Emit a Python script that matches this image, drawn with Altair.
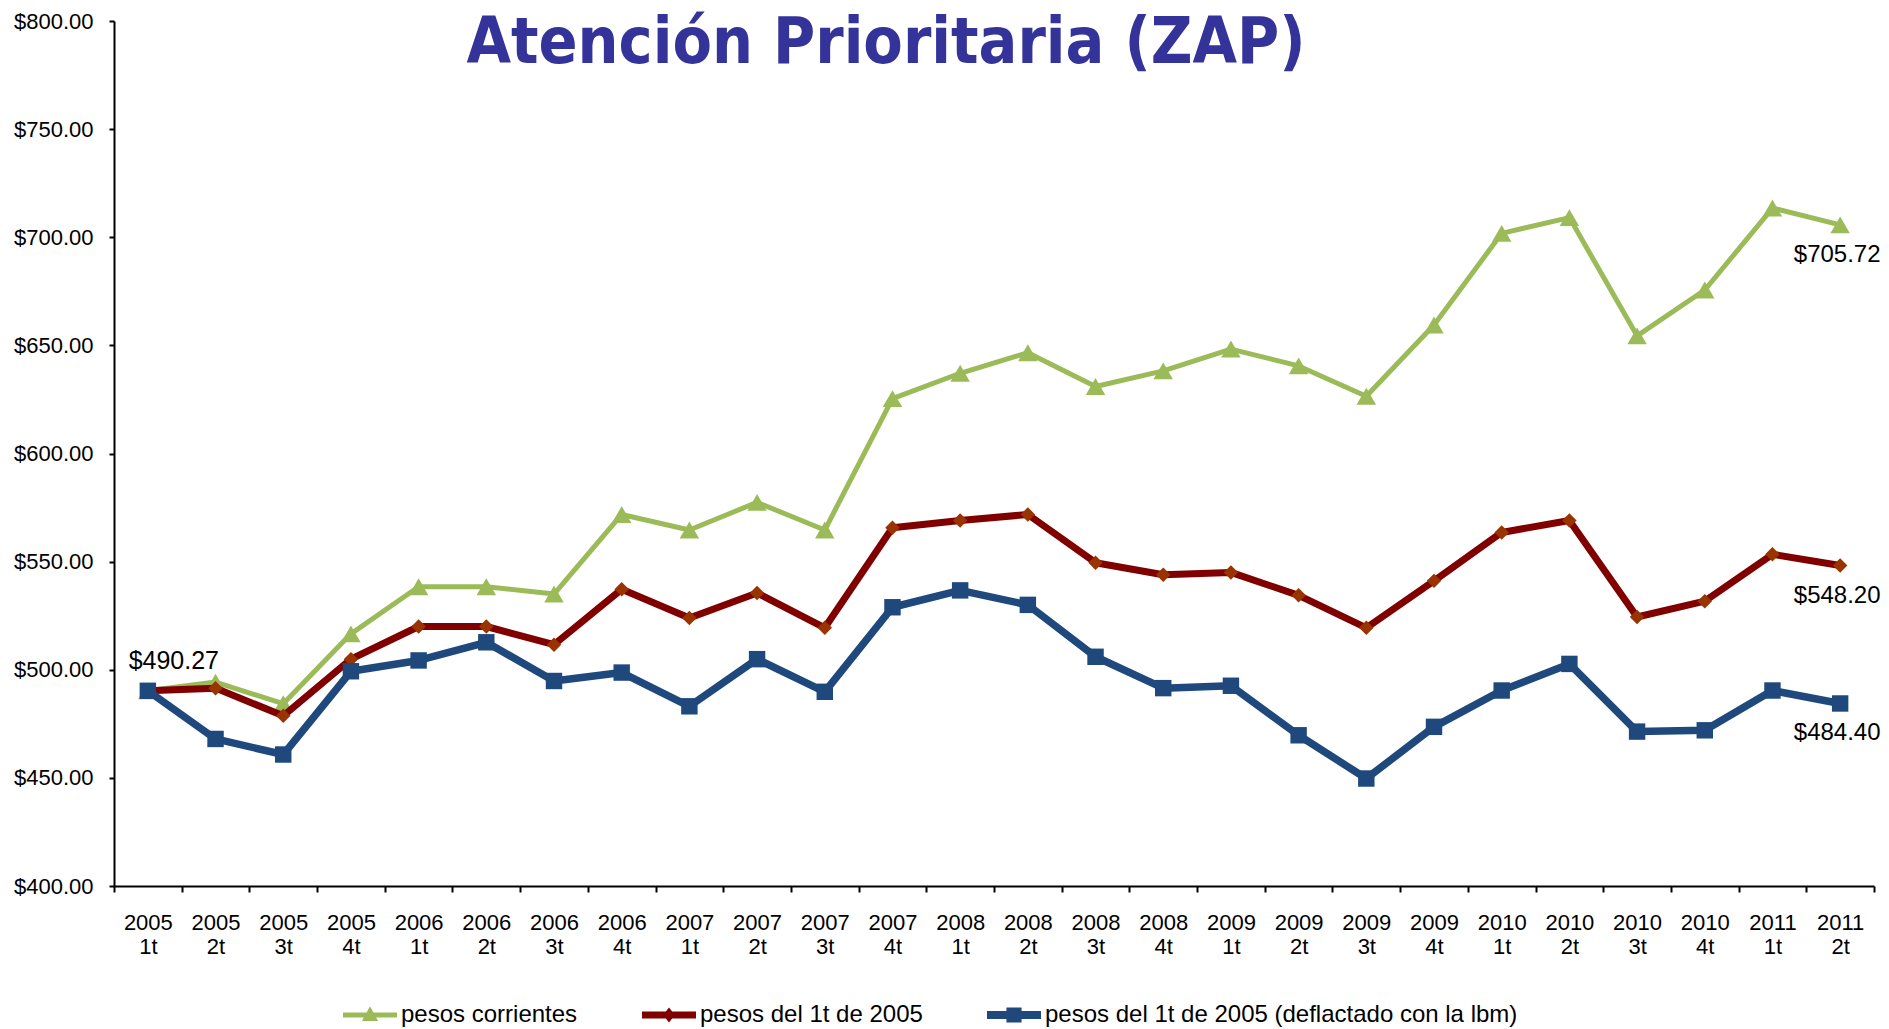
import altair as alt
import pandas as pd

categories = [
    "2005 1t", "2005 2t", "2005 3t", "2005 4t",
    "2006 1t", "2006 2t", "2006 3t", "2006 4t",
    "2007 1t", "2007 2t", "2007 3t", "2007 4t",
    "2008 1t", "2008 2t", "2008 3t", "2008 4t",
    "2009 1t", "2009 2t", "2009 3t", "2009 4t",
    "2010 1t", "2010 2t", "2010 3t", "2010 4t",
    "2011 1t", "2011 2t",
]
series_names = [
    "pesos corrientes",
    "pesos del 1t de 2005",
    "pesos del 1t de 2005 (deflactado con la lbm)",
]
corrientes = [490.27, 494.3, 484.3, 516.6, 538.4, 538.4, 535.0, 571.8, 564.6, 577.4,
              564.6, 625.4, 637.1, 646.6, 631.0, 638.2, 648.3, 640.5, 626.5, 659.4,
              701.8, 709.1, 654.4, 675.6, 713.5, 705.72]
constantes = [490.27, 491.5, 478.7, 504.9, 520.0, 520.0, 511.6, 537.2, 523.9, 535.5,
              519.4, 565.7, 569.0, 571.8, 549.5, 543.9, 545.0, 534.4, 519.4, 541.1,
              563.5, 569.0, 524.4, 531.7, 553.4, 548.20]
deflactado = [490.27, 468.0, 460.8, 499.3, 504.3, 512.7, 494.8, 498.7, 483.1, 504.9,
              489.8, 528.9, 536.7, 530.0, 506.0, 491.5, 492.6, 469.7, 449.7, 473.6,
              490.4, 502.7, 471.4, 472.0, 490.4, 484.40]
y_ticks = [400, 450, 500, 550, 600, 650, 700, 750, 800]
title_text = "Atención Prioritaria (ZAP)"

# styles
line_colors = ["#9BBB59", "#800000", "#1F497D"]
marker_colors = ["#9BBB59", "#993300", "#1F497D"]
line_widths = [5, 7, 7.5]
marker_shapes = ["triangle-up", "diamond", "square"]
marker_sizes = [380, 210, 270]
legend_paths = [
    "M-1,-0.09H1V0.09H-1Z M0,-0.32L0.3,0.22H-0.3Z",
    "M-1,-0.13H1V0.13H-1Z M0,-0.28L0.22,0L0,0.28L-0.22,0Z",
    "M-1,-0.15H1V0.15H-1Z M-0.28,-0.28H0.28V0.28H-0.28Z",
]

rows = []
for name, vals in zip(series_names, [corrientes, constantes, deflactado]):
    for c, v in zip(categories, vals):
        rows.append({"periodo": c, "valor": v, "serie": name})
df = pd.DataFrame(rows)

FONT = "Liberation Sans"

x_enc = alt.X(
    "periodo:N",
    sort=categories,
    bandPosition=0.5,
    scale=alt.Scale(type="band", domain=categories, paddingInner=0, paddingOuter=0),
    axis=alt.Axis(
        title=None, labelAngle=0, labelExpr="split(datum.label, ' ')",
        tickBand="extent", tickSize=6, tickWidth=2, domainWidth=2,
        labelFontSize=22, labelFont=FONT, labelColor="black", labelPadding=20,
        labelLineHeight=24, domainColor="black", tickColor="black", grid=False,
    ),
)
y_enc = alt.Y(
    "valor:Q",
    scale=alt.Scale(domain=[400, 800], nice=False, zero=False),
    axis=alt.Axis(
        title=None, values=y_ticks, format="$.2f", tickSize=5, tickWidth=2,
        domainWidth=2, labelFontSize=22, labelFont=FONT, labelColor="black",
        labelPadding=16, domainColor="black", tickColor="black", grid=False,
    ),
)

base = alt.Chart(df)
layers = []
for i, name in enumerate(series_names):
    sub = base.transform_filter(alt.datum.serie == name)
    layers.append(
        sub.mark_line(color=line_colors[i], strokeWidth=line_widths[i], strokeJoin="round")
        .encode(x=x_enc, y=y_enc)
    )
    layers.append(
        sub.mark_point(shape=marker_shapes[i], filled=True, size=marker_sizes[i],
                       color=marker_colors[i], opacity=1)
        .encode(x=x_enc, y=y_enc)
    )

legend_layer = base.transform_filter("false").mark_point(filled=True, opacity=1).encode(
    x=x_enc,
    y=y_enc,
    color=alt.Color("serie:N", scale=alt.Scale(domain=series_names, range=line_colors),
                    legend=alt.Legend(title=None)),
    shape=alt.Shape("serie:N", scale=alt.Scale(domain=series_names, range=legend_paths),
                    legend=alt.Legend(title=None)),
)
layers.append(legend_layer)

ann_first = pd.DataFrame({"periodo": [categories[0]], "valor": [corrientes[0]]})
ann_last = pd.DataFrame({
    "periodo": [categories[-1]] * 3,
    "valor": [corrientes[-1], constantes[-1], deflactado[-1]],
})
layers.append(
    alt.Chart(ann_first).mark_text(font=FONT, fontSize=25, color="black", dx=26, dy=-30,
                                   align="center", baseline="middle")
    .encode(x=x_enc, y=y_enc, text=alt.Text("valor:Q", format="$.2f"))
)
layers.append(
    alt.Chart(ann_last).mark_text(font=FONT, fontSize=24, color="black", dx=-3, dy=30,
                                  align="center", baseline="middle")
    .encode(x=x_enc, y=y_enc, text=alt.Text("valor:Q", format="$.2f"))
)
layers.append(
    alt.Chart(pd.DataFrame({"t": [title_text]})).mark_text(
        font="DejaVu Sans Condensed, DejaVu Sans", fontSize=64, fontWeight="bold",
        color="#333399", align="center", baseline="alphabetic",
    ).encode(text="t:N", x=alt.value(772), y=alt.value(42))
)

chart = alt.layer(*layers).properties(
    width=1760,
    height=865,
    autosize=alt.AutoSizeParams(type="none"),
    padding={"left": 106, "top": 13, "right": 7, "bottom": 142},
    background="white",
).configure_view(stroke=None).configure_legend(
    orient="none", legendX=229, legendY=967, direction="horizontal", columns=3,
    columnPadding=64, symbolSize=2916, symbolStrokeWidth=0, labelFontSize=24,
    labelFont=FONT, labelColor="black", labelOffset=4, labelLimit=1000,
)

chart.save("out.html", embed_options={"renderer": "svg", "actions": False})
